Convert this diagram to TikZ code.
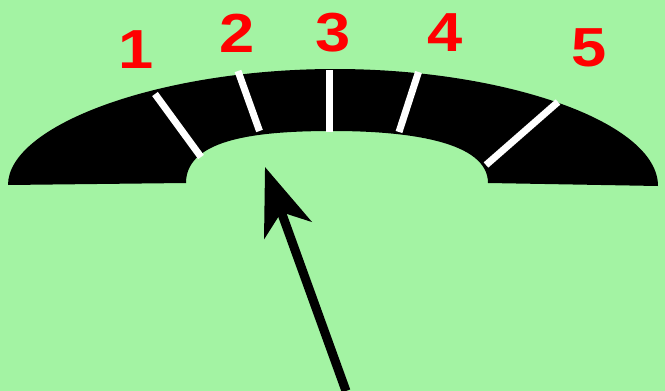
\documentclass[tikz,border=0pt]{standalone}
\usepackage{fontspec}
\usetikzlibrary{arrows.meta}
\newfontfamily\numfont{Liberation Sans}
\definecolor{bggreen}{RGB}{163,243,163}
\definecolor{numred}{RGB}{255,0,0}
\tikzset{
  numlabel/.style={text=numred, inner sep=0pt, font=\numfont\bfseries\fontsize{55}{55}\selectfont, xscale=1.15},
  tickline/.style={white, line width=7pt},
  pointer/.style={black, line width=9pt, -{Stealth[length=67pt, width=50pt, inset=19pt]}}
}
\begin{document}
\begin{tikzpicture}[x=1pt, y=-1pt]
  \useasboundingbox (0,0) rectangle (665,391);
  \fill[bggreen] (0,0) rectangle (665,391);
  % dial band
  \fill[black] (8,185) .. controls (8,125) and (160,69) .. (335,69)
     .. controls (505,69) and (658,122) .. (658,186)
     -- (488,183)
     .. controls (488,142) and (410,131) .. (333,131)
     .. controls (260,131) and (186,138) .. (186,183)
     -- cycle;
  % ticks
  \coordinate (t1a) at (155,94);  \coordinate (t1b) at (201,157);
  \coordinate (t2a) at (238,71);  \coordinate (t2b) at (259.5,131);
  \coordinate (t3a) at (329,70);  \coordinate (t3b) at (329,132);
  \coordinate (t4a) at (418.5,72);\coordinate (t4b) at (399,132);
  \coordinate (t5a) at (558,102); \coordinate (t5b) at (486,165);
  \draw[tickline] (t1a) -- (t1b);
  \draw[tickline] (t2a) -- (t2b);
  \draw[tickline] (t3a) -- (t3b);
  \draw[tickline] (t4a) -- (t4b);
  \draw[tickline] (t5a) -- (t5b);
  % labels
  \node[numlabel] (n1) at (136,50) {1};
  \node[numlabel] (n2) at (237,33) {2};
  \node[numlabel] (n3) at (333,33) {3};
  \node[numlabel] (n4) at (445,33) {4};
  \node[numlabel] (n5) at (589,48) {5};
  % pointer
  \coordinate (tail) at (346,391);
  \coordinate (tip) at (265,167);
  \draw[pointer] (tail) -- (tip);
\end{tikzpicture}
\end{document}
